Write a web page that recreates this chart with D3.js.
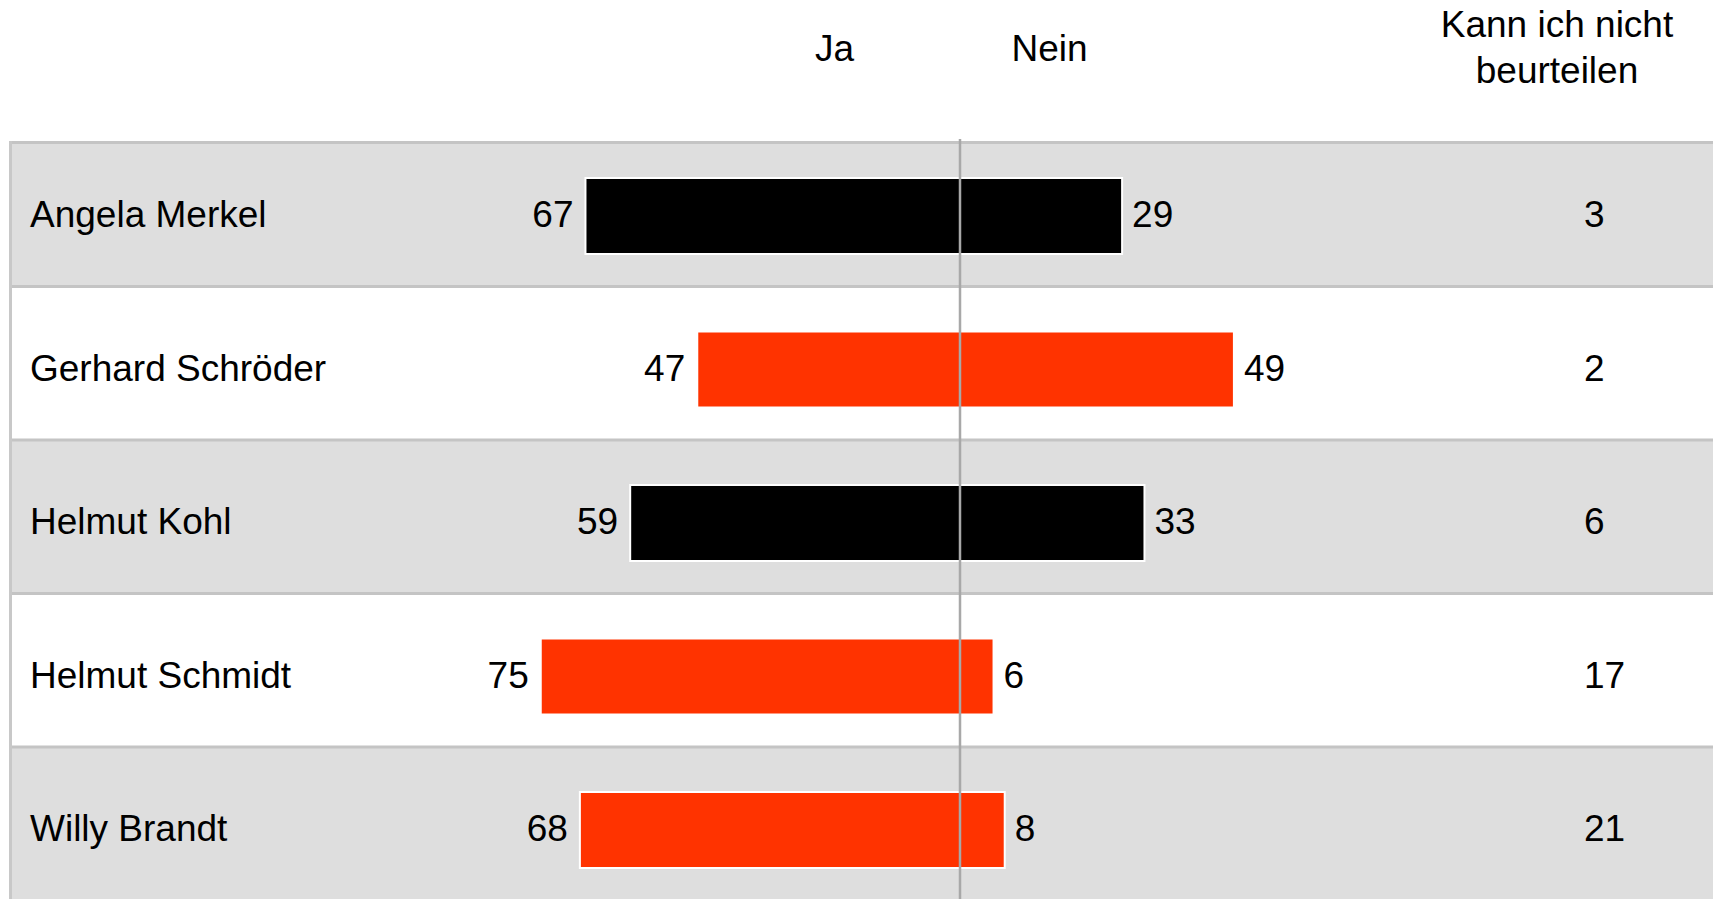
<!DOCTYPE html>
<html>
<head>
<meta charset="utf-8">
<script src="https://cdn.jsdelivr.net/npm/d3@7"></script>
<style>
  html, body { margin: 0; padding: 0; background: #fff; }
  svg { display: block; }
  text { font-family: "Liberation Sans", Arial, Helvetica, sans-serif; fill: #000; }
</style>
</head>
<body>
<svg id="chart" width="1713" height="899"></svg>
<script>
// ---- data ----
const names = ["Angela Merkel", "Gerhard Schröder", "Helmut Kohl", "Helmut Schmidt", "Willy Brandt"];
const parties = ["CDU", "SPD", "CDU", "SPD", "SPD"];
const ja = [67, 47, 59, 75, 68];
const nein = [29, 49, 33, 6, 8];
const keineAngabe = [3, 2, 6, 17, 21];
const headerJa = "Ja";
const headerNein = "Nein";
const headerKann = ["Kann ich nicht", "beurteilen"];

// ---- layout ----
const W = 1713, H = 899;
const centerX = 960;
const tableTop = 142;
const fs = 37;
const svg = d3.select("#chart");

const x = d3.scaleLinear().domain([-100, 100]).range([centerX - 559, centerX + 559]);
const y = d3.scaleBand().domain(names).range([133, 133 + 153.5 * names.length]).padding(0);
const color = d3.scaleOrdinal().domain(["CDU", "SPD"]).range(["#000000", "#ff3300"]);

const rows = names.map((n, i) => ({ name: n, party: parties[i], ja: ja[i], nein: nein[i], k: keineAngabe[i], i }));

// row backgrounds
svg.append("g").selectAll("rect").data(rows).join("rect")
  .attr("x", 10)
  .attr("y", d => Math.max(tableTop, y(d.name)))
  .attr("width", W - 10)
  .attr("height", d => y(d.name) + y.bandwidth() - Math.max(tableTop, y(d.name)))
  .attr("fill", d => d.i % 2 === 0 ? "#dedede" : "#ffffff");

// horizontal borders
const borderYs = rows.map(d => d.i === 0 ? tableTop + 0.5 : y(d.name));
svg.append("g").selectAll("line").data(borderYs).join("line")
  .attr("x1", 9).attr("x2", W)
  .attr("y1", d => d).attr("y2", d => d)
  .attr("stroke", "#c4c4c4").attr("stroke-width", 3);

// left border
svg.append("line")
  .attr("x1", 10.5).attr("x2", 10.5)
  .attr("y1", tableTop - 1).attr("y2", H)
  .attr("stroke", "#c8c8c8").attr("stroke-width", 3);

// header
svg.append("text").attr("x", 834.5).attr("y", 61).attr("text-anchor", "middle")
  .attr("font-size", fs).text(headerJa);
svg.append("text").attr("x", 1049.5).attr("y", 61).attr("text-anchor", "middle")
  .attr("font-size", fs).text(headerNein);
svg.append("text").attr("x", 1557).attr("y", 37).attr("text-anchor", "middle")
  .attr("font-size", fs)
  .selectAll("tspan").data(headerKann).join("tspan")
  .attr("x", 1557).attr("dy", (d, i) => i === 0 ? 0 : 45.5).text(d => d);

// bars
const barOffset = 45, barH = 76;
svg.append("g").selectAll("rect").data(rows).join("rect")
  .attr("x", d => x(-d.ja))
  .attr("y", d => y(d.name) + barOffset)
  .attr("width", d => x(d.nein) - x(-d.ja))
  .attr("height", barH)
  .attr("fill", d => color(d.party))
  .attr("stroke", "#ffffff").attr("stroke-width", 2);

// name labels
const baseOff = 94;
svg.append("g").selectAll("text").data(rows).join("text")
  .attr("x", 30).attr("y", d => y(d.name) + baseOff)
  .attr("font-size", fs).text(d => d.name);

// ja labels
svg.append("g").selectAll("text").data(rows).join("text")
  .attr("x", d => x(-d.ja) - 12).attr("y", d => y(d.name) + baseOff)
  .attr("text-anchor", "end").attr("font-size", fs).text(d => d.ja);

// nein labels
svg.append("g").selectAll("text").data(rows).join("text")
  .attr("x", d => x(d.nein) + 10).attr("y", d => y(d.name) + baseOff)
  .attr("font-size", fs).text(d => d.nein);

// kann-ich-nicht-beurteilen labels
svg.append("g").selectAll("text").data(rows).join("text")
  .attr("x", 1584).attr("y", d => y(d.name) + baseOff)
  .attr("font-size", fs).text(d => d.k);

// center line
svg.append("line")
  .attr("x1", centerX).attr("x2", centerX)
  .attr("y1", 139).attr("y2", H)
  .attr("stroke", "#a8a8a8").attr("stroke-width", 2.5);
</script>
</body>
</html>
